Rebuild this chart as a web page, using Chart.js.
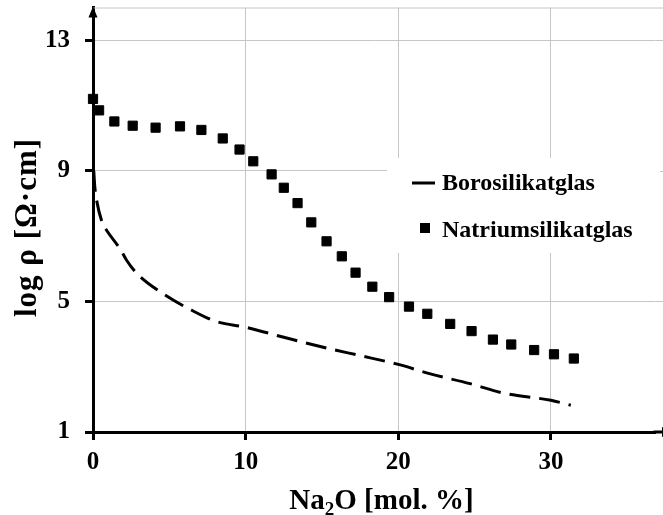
<!DOCTYPE html>
<html>
<head>
<meta charset="utf-8">
<script src="https://cdn.jsdelivr.net/npm/chart.js@4.4.1/dist/chart.umd.min.js"></script>
<style>
  html, body { margin: 0; padding: 0; background: #fff; }
</style>
</head>
<body>
<canvas id="resistivity" width="663" height="515"></canvas>
<script>
'use strict';

// values
var natriumX = [0, 0.4, 1.4, 2.6, 4.1, 5.7, 7.1, 8.5, 9.6, 10.5, 11.7, 12.5, 13.4, 14.3,
  15.3, 16.3, 17.2, 18.3, 19.4, 20.7, 21.9, 23.4, 24.8, 26.2, 27.4, 28.9, 30.2, 31.5];
var natriumY = [11.2, 10.85, 10.51, 10.38, 10.32, 10.36, 10.25, 9.99, 9.65, 9.29, 8.89, 8.48, 8.01, 7.42,
  6.84, 6.38, 5.88, 5.45, 5.13, 4.84, 4.62, 4.31, 4.09, 3.83, 3.68, 3.51, 3.38, 3.25];

var boroX = [0.05, 0.12, 0.24, 0.6, 0.9, 1.77, 2.2, 2.9, 4.6, 6.5, 8.1, 10, 12.5, 15.5,
  17.5, 20, 22.1, 24.7, 26.9, 30, 31.3];
var boroY = [9.0, 8.5, 8.09, 7.42, 7.17, 6.61, 6.26, 5.84, 5.23, 4.72, 4.38, 4.21, 3.9, 3.55,
  3.34, 3.07, 2.78, 2.48, 2.19, 1.97, 1.82];

var xTicks = [0, 10, 20, 30];
var yTicks = [1, 5, 9, 13];

var seriesNames = ['Borosilikatglas', 'Natriumsilikatglas'];

var serif = "'Liberation Serif', 'Times New Roman', serif";
Chart.defaults.font.family = serif;
Chart.defaults.color = '#000';

function toPoints(xs, ys) {
  return xs.map(function (x, i) { return { x: x, y: ys[i] }; });
}

function noPadding(scale) {
  scale.paddingTop = 0;
  scale.paddingBottom = 0;
  scale.paddingLeft = 0;
  scale.paddingRight = 0;
}

// axis arrows, frame line, titles and the boxed legend
var decorations = {
  id: 'decorations',
  afterDraw: function (chart) {
    var ctx = chart.ctx;
    var area = chart.chartArea;
    var yScale = chart.scales.y;
    var edge = chart.width;
    ctx.save();

    // top frame line and gridlines run to the right edge
    ctx.strokeStyle = '#c6c6c6';
    ctx.lineWidth = 1;
    ctx.beginPath();
    ctx.moveTo(area.left, area.top + 0.5);
    ctx.lineTo(edge, area.top + 0.5);
    yTicks.slice(1).forEach(function (v) {
      var py = Math.round(yScale.getPixelForValue(v)) + 0.5;
      ctx.moveTo(area.right, py);
      ctx.lineTo(edge, py);
    });
    ctx.stroke();

    // x axis runs to the edge
    ctx.strokeStyle = '#000';
    ctx.lineWidth = 3;
    ctx.beginPath();
    ctx.moveTo(area.right - 2, area.bottom);
    ctx.lineTo(edge, area.bottom);
    ctx.stroke();

    // arrow heads
    ctx.fillStyle = '#000';
    ctx.beginPath();
    ctx.moveTo(area.left, area.top - 1);
    ctx.lineTo(area.left - 4.5, area.top + 10);
    ctx.lineTo(area.left + 4.5, area.top + 10);
    ctx.closePath();
    ctx.fill();
    ctx.beginPath();
    ctx.moveTo(edge - 1, area.bottom - 5);
    ctx.lineTo(edge + 9, area.bottom);
    ctx.lineTo(edge - 1, area.bottom + 5);
    ctx.closePath();
    ctx.fill();

    // x title with subscript
    ctx.textBaseline = 'alphabetic';
    ctx.textAlign = 'left';
    var big = 'bold 29px ' + serif;
    var small = 'bold 19px ' + serif;
    ctx.font = big;
    var w1 = ctx.measureText('Na').width;
    var w3 = ctx.measureText('O [mol. %]').width;
    ctx.font = small;
    var w2 = ctx.measureText('2').width;
    var x0 = 381.5 - (w1 + w2 + w3) / 2;
    var base = 509;
    ctx.font = big;
    ctx.fillText('Na', x0, base);
    ctx.font = small;
    ctx.fillText('2', x0 + w1, base + 6);
    ctx.font = big;
    ctx.fillText('O [mol. %]', x0 + w1 + w2, base);

    // y title
    ctx.save();
    ctx.translate(36, 227.5);
    ctx.rotate(-Math.PI / 2);
    ctx.textAlign = 'center';
    ctx.font = 'bold 31px ' + serif;
    ctx.letterSpacing = '1px';
    ctx.fillText('log \u03c1 [\u03a9\u00b7cm]', 0, 0);
    ctx.restore();

    // legend
    ctx.fillStyle = '#fff';
    ctx.fillRect(387, 158, 273, 95);
    ctx.strokeStyle = '#000';
    ctx.lineWidth = 3;
    ctx.beginPath();
    ctx.moveTo(412, 183);
    ctx.lineTo(435, 183);
    ctx.stroke();
    ctx.fillStyle = '#000';
    ctx.fillRect(420, 223, 10, 10);
    ctx.font = 'bold 24px ' + serif;
    ctx.textAlign = 'left';
    ctx.fillText(seriesNames[0], 442, 190);
    ctx.fillText(seriesNames[1], 442, 237);

    ctx.restore();
  }
};

var ctx = document.getElementById('resistivity');
var chart = new Chart(ctx, {
  type: 'scatter',
  data: {
    datasets: [
      {
        label: seriesNames[0],
        data: toPoints(boroX, boroY),
        showLine: true,
        borderColor: '#000',
        borderWidth: 3,
        borderDash: [21, 9],
        pointRadius: 0,
        cubicInterpolationMode: 'monotone',
        fill: false
      },
      {
        label: seriesNames[1],
        data: toPoints(natriumX, natriumY),
        showLine: false,
        clip: false,
        pointStyle: 'rect',
        pointRadius: 6.5,
        pointBorderWidth: 1,
        pointBorderColor: '#000',
        pointBackgroundColor: '#000'
      }
    ]
  },
  options: {
    responsive: false,
    animation: false,
    layout: { padding: { top: 7, right: 0, left: 0, bottom: 0 } },
    plugins: {
      legend: { display: false },
      tooltip: { enabled: false }
    },
    scales: {
      x: {
        type: 'linear',
        min: 0,
        max: 36.85,
        afterBuildTicks: function (scale) {
          scale.ticks = xTicks.map(function (v) { return { value: v }; });
        },
        afterFit: function (scale) {
          scale.height = 83;
          noPadding(scale);
        },
        grid: {
          color: '#c6c6c6',
          lineWidth: 1,
          tickColor: '#000',
          tickWidth: 3,
          tickLength: 8
        },
        border: { color: '#000', width: 3 },
        ticks: {
          padding: 8,
          font: { size: 25, weight: 'bold' }
        }
      },
      y: {
        type: 'linear',
        min: 1,
        max: 14,
        afterBuildTicks: function (scale) {
          scale.ticks = yTicks.map(function (v) { return { value: v }; });
        },
        afterFit: function (scale) {
          scale.width = 93;
          noPadding(scale);
        },
        grid: {
          color: '#c6c6c6',
          lineWidth: 1,
          tickColor: '#000',
          tickWidth: 3,
          tickLength: 8
        },
        border: { color: '#000', width: 3 },
        ticks: {
          padding: 15,
          font: { size: 25, weight: 'bold' }
        }
      }
    }
  },
  plugins: [decorations]
});
</script>
</body>
</html>
